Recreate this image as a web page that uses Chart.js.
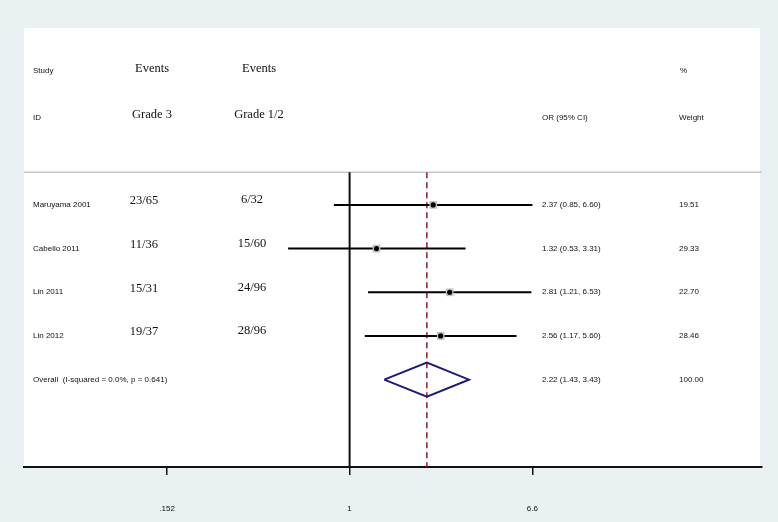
<!DOCTYPE html>
<html>
<head>
<meta charset="utf-8">
<script src="https://cdn.jsdelivr.net/npm/chart.js@4.4.1/dist/chart.umd.min.js"></script>
<style>
    html, body { margin: 0; padding: 0; background: #e9f1f2; }
    #wrap { width: 778px; height: 522px; }
</style>
</head>
<body>
<div id="wrap"><canvas id="forest" width="778" height="522"></canvas></div>
<script>
// Forest plot data (odds ratios, grade 3 vs grade 1/2)
const studies = ['Maruyama 2001', 'Cabello 2011', 'Lin 2011', 'Lin 2012'];
const eventsGrade3 = ['23/65', '11/36', '15/31', '19/37'];
const eventsGrade12 = ['6/32', '15/60', '24/96', '28/96'];
const orEst = [2.37, 1.32, 2.81, 2.56];
const ciLow = [0.85, 0.53, 1.21, 1.17];
const ciHigh = [6.60, 3.31, 6.53, 5.60];
const weights = [19.51, 29.33, 22.70, 28.46];

const overallLabel = 'Overall  (I-squared = 0.0%, p = 0.641)';
const overallOR = [2.22, 1.43, 3.43];   // estimate, lower, upper
const overallWeight = 100.00;

const xTicks = [0.152, 1, 6.6];
const xTickLabels = ['.152', '1', '6.6'];

// layout helpers (row values on the hidden y axis)
const rowOf = i => i + 1;
const overallRow = studies.length + 1;
const sepRow = 0.25;
const yMin = -3.05, yMax = 7.0;
const diamondHalf = 0.39;

const sans = '"Liberation Sans", Arial, sans-serif';
const serif = '"Liberation Serif", "Times New Roman", serif';

function fmtCI(e, l, h) {
    return e.toFixed(2) + ' (' + l.toFixed(2) + ', ' + h.toFixed(2) + ')';
}

// CI whiskers as one broken line
const ciPoints = [];
studies.forEach((s, i) => {
    ciPoints.push({ x: ciLow[i], y: rowOf(i) });
    ciPoints.push({ x: ciHigh[i], y: rowOf(i) });
    ciPoints.push({ x: null, y: null });
});

const diamond = [
    { x: overallOR[1], y: overallRow },
    { x: overallOR[0], y: overallRow - diamondHalf },
    { x: overallOR[2], y: overallRow },
    { x: overallOR[0], y: overallRow + diamondHalf },
    { x: overallOR[1], y: overallRow }
];

const panelPlugin = {
    id: 'panel',
    beforeDraw(chart) {
        const ctx = chart.ctx;
        const a = chart.chartArea;
        ctx.save();
        ctx.fillStyle = '#e9f1f2';
        ctx.fillRect(0, 0, chart.width, chart.height);
        ctx.fillStyle = '#ffffff';
        ctx.fillRect(a.left, a.top, 736, a.bottom - a.top);
        // header separator
        const ys = chart.scales.y.getPixelForValue(sepRow);
        ctx.strokeStyle = '#c8c8c8';
        ctx.lineWidth = 1.5;
        ctx.beginPath();
        ctx.moveTo(a.left, ys);
        ctx.lineTo(a.right, ys);
        ctx.stroke();
        ctx.restore();
    },
    afterDraw(chart) {
        const ctx = chart.ctx;
        const y = chart.scales.y;
        ctx.save();
        ctx.fillStyle = '#111111';
        ctx.textBaseline = 'middle';

        // headers
        ctx.font = '8px ' + sans;
        ctx.textAlign = 'left';
        const h1 = y.getPixelForValue(-2.07), h2 = y.getPixelForValue(-1.0);
        ctx.fillText('Study', 33, h1);
        ctx.fillText('ID', 33, h2);
        ctx.fillText('%', 680, h1);
        ctx.fillText('OR (95% CI)', 542, h2);
        ctx.fillText('Weight', 679, h2);

        ctx.font = '12.5px ' + serif;
        ctx.textAlign = 'center';
        ctx.fillText('Events', 152, h1 - 2);
        ctx.fillText('Events', 259, h1 - 2);
        ctx.fillText('Grade 3', 152, h2 - 3);
        ctx.fillText('Grade 1/2', 259, h2 - 3);

        // study rows
        studies.forEach((s, i) => {
            const py = y.getPixelForValue(rowOf(i));
            ctx.font = '8px ' + sans;
            ctx.textAlign = 'left';
            ctx.fillText(s, 33, py);
            ctx.fillText(fmtCI(orEst[i], ciLow[i], ciHigh[i]), 542, py);
            ctx.fillText(weights[i].toFixed(2), 679, py);
            ctx.font = '12.5px ' + serif;
            ctx.textAlign = 'center';
            ctx.fillText(eventsGrade3[i], 144, py - 4);
            ctx.fillText(eventsGrade12[i], 252, py - 5);
        });

        // overall row
        const po = y.getPixelForValue(overallRow);
        ctx.font = '8px ' + sans;
        ctx.textAlign = 'left';
        ctx.fillText(overallLabel, 33, po);
        ctx.fillText(fmtCI(overallOR[0], overallOR[1], overallOR[2]), 542, po);
        ctx.fillText(overallWeight.toFixed(2), 679, po);
        ctx.restore();
    }
};

const ctx = document.getElementById('forest').getContext('2d');
new Chart(ctx, {
    type: 'scatter',
    data: {
        datasets: [
            {
                type: 'line',
                label: 'null line',
                data: [{ x: 1, y: sepRow }, { x: 1, y: yMax }],
                borderColor: '#111111',
                borderWidth: 2,
                pointRadius: 0,
                order: 6
            },
            {
                type: 'line',
                label: 'overall line',
                data: [{ x: overallOR[0], y: sepRow }, { x: overallOR[0], y: yMax }],
                borderColor: '#8e1a2c',
                borderWidth: 1.5,
                borderDash: [6, 4],
                pointRadius: 0,
                order: 5
            },
            {
                type: 'line',
                label: 'CI',
                data: ciPoints,
                borderColor: '#000000',
                borderWidth: 2,
                pointRadius: 0,
                spanGaps: false,
                order: 4
            },
            {
                label: 'weight box',
                data: orEst.map((v, i) => ({ x: v, y: rowOf(i) })),
                pointStyle: 'rect',
                pointRadius: 5.5,
                backgroundColor: '#c4c4c4',
                borderWidth: 0,
                order: 3
            },
            {
                label: 'estimate',
                data: orEst.map((v, i) => ({ x: v, y: rowOf(i) })),
                pointStyle: 'circle',
                pointRadius: 2.6,
                backgroundColor: '#000000',
                borderWidth: 0,
                order: 2
            },
            {
                type: 'line',
                label: 'overall',
                data: diamond,
                borderColor: '#1c1c78',
                borderWidth: 2,
                pointRadius: 0,
                fill: false,
                order: 1
            }
        ]
    },
    plugins: [panelPlugin],
    options: {
        responsive: false,
        animation: false,
        layout: { padding: { left: 24, right: 16, top: 28, bottom: 0 } },
        plugins: {
            legend: { display: false },
            tooltip: { enabled: false }
        },
        scales: {
            x: {
                type: 'logarithmic',
                position: 'bottom',
                min: 0.0347,
                max: 70.6,
                afterBuildTicks: scale => {
                    scale.ticks = xTicks.map(v => ({ value: v }));
                },
                afterFit: scale => { scale.height = 55; },
                ticks: {
                    autoSkip: false,
                    maxRotation: 0,
                    padding: 29,
                    color: '#111111',
                    font: { family: sans, size: 8 },
                    callback: (value, index) => xTickLabels[index]
                },
                grid: {
                    drawOnChartArea: false,
                    drawTicks: true,
                    tickLength: 8,
                    color: '#111111',
                    lineWidth: 1.5
                },
                border: { display: true, color: '#111111', width: 2 }
            },
            y: {
                type: 'linear',
                display: false,
                reverse: true,
                min: yMin,
                max: yMax
            }
        }
    }
});
</script>
</body>
</html>
